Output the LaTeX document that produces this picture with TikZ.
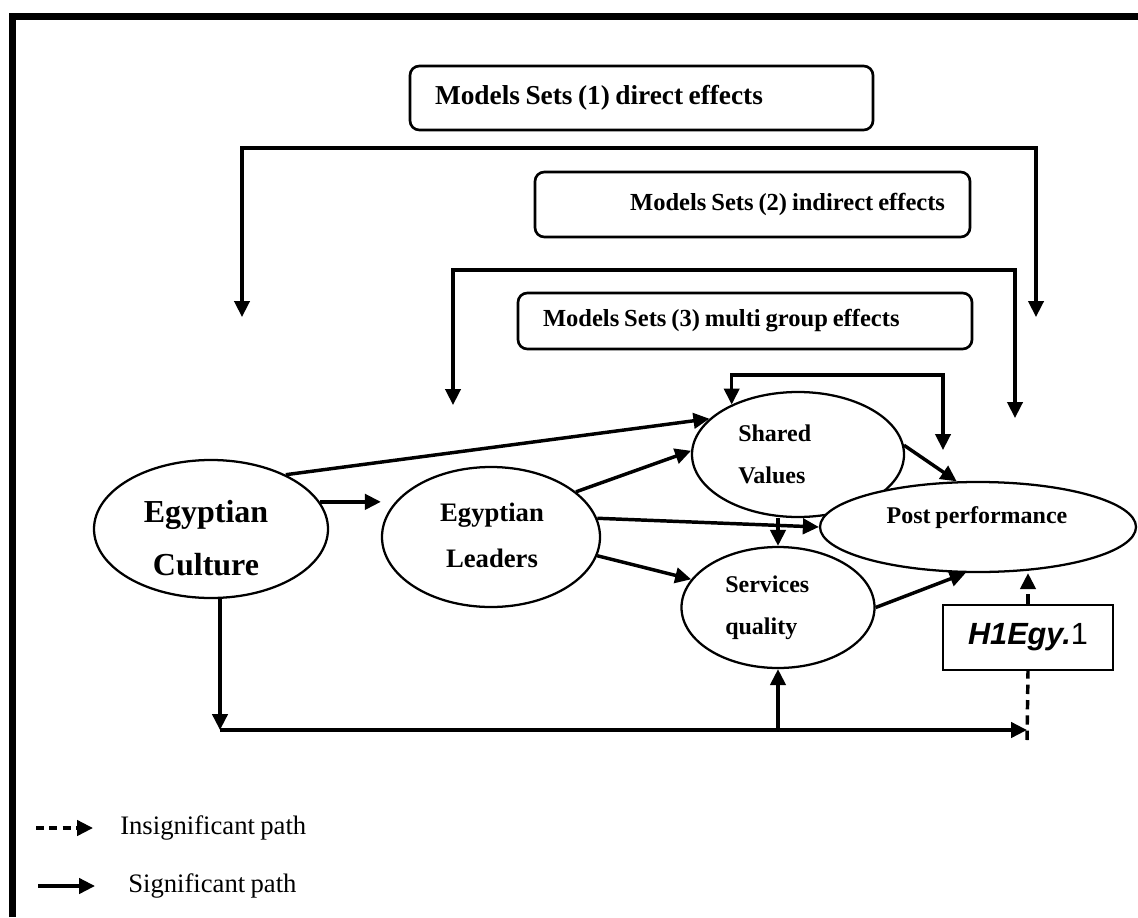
\documentclass[tikz,border=0pt]{standalone}
\usepackage{fontspec}
\setmainfont{Liberation Serif}[WordSpace=0.8]
\newfontfamily\hfont{Liberation Sans}
\usetikzlibrary{shapes.geometric,arrows.meta,calc}

\begin{document}
\begin{tikzpicture}[x=0.75pt,y=-0.75pt,
  tip/.tip={Triangle[length=12pt,width=11.5pt]},
  conn/.style={line width=2.6pt,-tip},
  twoway/.style={line width=2.4pt,tip-tip},
  dashpath/.style={line width=2.6pt,dash pattern=on 7pt off 4.5pt},
  ell/.style={draw,ellipse,line width=1.7pt,fill=white,inner sep=0pt},
  mbox/.style={draw,rounded corners=7pt,line width=2pt,inner ysep=0pt,inner xsep=18.75pt},
  etxt/.style={font=\bfseries\fontsize{18}{31.5}\selectfont,align=flush left,anchor=west,inner sep=0pt},
  legtxt/.style={font=\fontsize{20}{24}\selectfont,anchor=west,inner sep=0pt},
]
\useasboundingbox (0,0) rectangle (1138,917);

% outer frame (top and left edges)
\draw[line width=5.25pt] (12,917) -- (12,17) -- (1138,17);

% model-set boxes
\node[mbox,minimum width=347.25pt,minimum height=48pt,text width=309.75pt,align=flush left,
      font=\bfseries\fontsize{20.5}{24}\selectfont] (ms1) at (641.5,98) {Models Sets (1) direct effects};
\node[mbox,minimum width=326.25pt,minimum height=48.75pt,text width=288.75pt,align=flush right,
      font=\bfseries\fontsize{18.4}{22}\selectfont] (ms2) at (752.5,204.5) {Models Sets (2) indirect effects};
\node[mbox,minimum width=340.5pt,minimum height=42pt,text width=303pt,align=flush left,
      font=\bfseries\fontsize{18.4}{22}\selectfont] (ms3) at (745,321) {Models Sets (3) multi group effects};

% constructs
\node[ell,minimum width=175.5pt,minimum height=103.5pt] (cult) at (211,529) {};
\node[ell,minimum width=163.5pt,minimum height=105pt] (lead) at (491,537) {};
\node[ell,minimum width=159pt,minimum height=93.75pt] (sv) at (798,454.5) {};
\node[ell,minimum width=144.75pt,minimum height=90.75pt] (sq) at (778,607.5) {};
\node[ell,minimum width=237pt,minimum height=67.5pt] (pp) at (978,527) {};

\node[font=\bfseries\fontsize{24}{40}\selectfont,align=center,inner sep=0pt] (cultT) at (206,538) {Egyptian\\Culture};
\node[font=\bfseries\fontsize{20}{34.5}\selectfont,align=center,inner sep=0pt] (leadT) at (492,535) {Egyptian\\Leaders};
\node[etxt] (svT) at (738,454) {Shared\\Values};
\node[etxt] (sqT) at (725,608) {Services\\quality};
\node[font=\bfseries\fontsize{18}{22}\selectfont,inner sep=0pt] (ppT) at (977,518) {Post performance};

% hypothesis box
\node[draw,line width=1.8pt,minimum width=127.5pt,minimum height=48.75pt,inner sep=0pt,
      font=\hfont\fontsize{23}{26}\selectfont] (h1) at (1028,637.5) {{\bfseries\itshape H1Egy.}1};

% routing points of the model-set connectors
\coordinate (k1) at (242,148);
\coordinate (t1L) at (242,317);
\coordinate (t1R) at (1036,317);
\coordinate (k3) at (453,270);
\coordinate (t3L) at (453,405);
\coordinate (t3R) at (1015,418);
\coordinate (k4) at (0,375);
\coordinate (t4R) at (943,450);

\draw[twoway] (t1L) -- (k1) -| (t1R);
\draw[twoway] (t3L) -- (k3) -| (t3R);
\draw[twoway] (sv.143) -- (sv.143 |- k4) -| (t4R);

% structural paths
\draw[conn] (cult.14) -- (cult.14 -| lead.west);
\draw[conn] (cult.36) -- (sv.158);
\draw[conn] (lead.28) -- (sv.178);
\draw[conn] (lead.10) -- (pp.west);
\draw[conn] (lead.-10) -- (sq.162);
\draw[conn] (sq.north |- sv.south) -- (sq.north);
\draw[conn] (sv.5) -- (pp.115);
\draw[conn] (sq.east) -- (pp.-105);

% bottom path
\coordinate (bl) at (220,730);
\coordinate (br) at (1027,730);
\coordinate (dend) at (1027,740);
\draw[conn] (bl |- cult.south) -- (bl);
\draw[conn] (bl) -- (br);
\draw[conn] (sq.south |- bl) -- (sq.south);
\draw[dashpath] (dend) -- (h1.south);
\draw[dashpath,-tip] (h1.north) -- (h1.north |- pp.south);

% legend
\coordinate (lg1a) at (36,828);
\coordinate (lg1b) at (93,828);
\coordinate (lg2a) at (38,886);
\coordinate (lg2b) at (95,886);
\draw[dashpath,dash pattern=on 6pt off 4pt,-tip] (lg1a) -- (lg1b);
\draw[conn] (lg2a) -- (lg2b);
\node[legtxt] (lg1t) at (120,828) {Insignificant path};
\node[legtxt] (lg2t) at (128,886) {Significant path};
\end{tikzpicture}
\end{document}
